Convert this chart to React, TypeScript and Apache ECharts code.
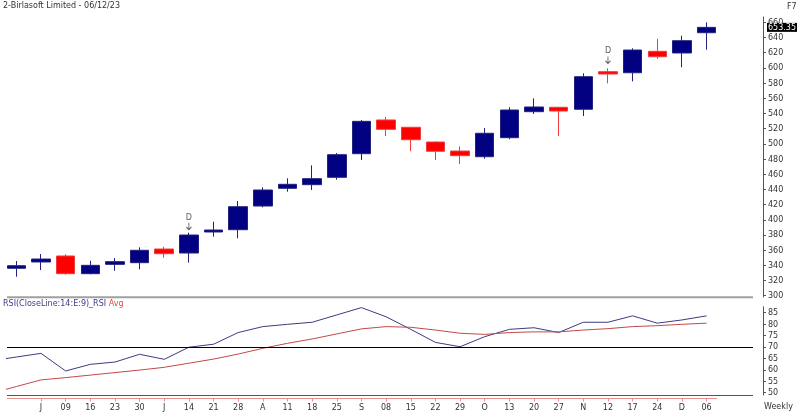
import React, { useEffect, useRef } from 'react';
import * as echarts from 'echarts';

const TITLE = '2-Birlasoft Limited - 06/12/23';
const weekLabels = ['', 'J', '09', '16', '23', '30', 'J', '14', '21', '28', 'A', '11', '18', '25', 'S', '08', '15', '22', '29', 'O', '13', '20', '27', 'N', '12', '17', '24', 'D', '06'];

const opens = [336.1, 344.4, 352.3, 329.0, 341.3, 343.5, 361.5, 356.2, 383.9, 386.9, 418.1, 441.4, 446.2, 455.9, 487.0, 531.4, 521.8, 502.4, 490.5, 483.0, 508.1, 542.3, 548.1, 545.5, 595.0, 593.6, 621.8, 619.6, 646.3];
const closes = [339.5, 348.3, 329.0, 340.0, 344.8, 359.8, 355.3, 379.9, 386.5, 417.2, 439.2, 446.7, 454.1, 485.7, 529.6, 519.1, 505.4, 490.2, 484.4, 513.9, 544.5, 548.5, 543.2, 588.4, 591.9, 623.5, 614.7, 635.8, 653.35];
const lows = [325.0, 333.8, 327.7, 328.2, 332.9, 334.8, 350.0, 343.5, 377.7, 375.6, 416.4, 437.0, 439.2, 452.8, 478.7, 510.3, 490.2, 478.7, 473.4, 480.4, 506.0, 539.3, 510.3, 536.6, 579.7, 582.3, 612.1, 600.8, 623.9];
const highs = [345.7, 354.9, 354.5, 346.0, 349.6, 363.7, 364.5, 383.0, 397.4, 424.7, 442.7, 454.6, 471.7, 487.9, 531.4, 535.3, 522.2, 503.0, 496.7, 520.8, 548.1, 559.9, 548.5, 592.9, 599.4, 625.8, 638.4, 642.4, 660.0];

// RSI values; the first entry is the week before the visible window (clipped at the left edge)
const rsiValues = [64.0, 65.6, 67.2, 59.5, 62.4, 63.4, 66.8, 64.6, 69.9, 71.2, 76.3, 78.9, 79.9, 80.8, 84.0, 87.2, 83.2, 77.7, 72.0, 70.1, 74.5, 77.7, 78.4, 76.3, 80.8, 80.8, 83.6, 80.4, 81.8, 83.6];
const rsiAvgValues = [49.8, 52.7, 55.6, 56.6, 57.7, 58.8, 59.9, 61.1, 62.9, 64.7, 66.9, 69.4, 71.6, 73.5, 75.7, 77.9, 78.9, 78.6, 77.4, 76.0, 75.5, 76.3, 76.6, 76.6, 77.4, 78.0, 78.9, 79.3, 79.9, 80.4];

const dividendWeeks = [7, 24];
const dividendMarkLevels = [391.4, 610.4];
const lastClose = 653.35;
const rsiLevel = 70;

const priceTicks = [300, 320, 340, 360, 380, 400, 420, 440, 460, 480, 500, 520, 540, 560, 580, 600, 620, 640, 660];
const rsiTicks = [50, 55, 60, 65, 70, 75, 80, 85];
const labelWeeks = weekLabels.map((_, i) => i).filter((i) => weekLabels[i] !== '');

const FONT = 'DejaVu Sans';
const X_MIN = -0.379;
const X_MAX = 29.884;

export default function App() {
  const ref = useRef<HTMLDivElement>(null);

  useEffect(() => {
    if (!ref.current) return;
    const chart = echarts.init(ref.current, undefined, { renderer: 'svg' });

    const candleData = opens.map((o, i) => [i, o, closes[i], lows[i], highs[i]]);
    const rsiData = rsiValues.map((v, i) => [i - 1, v]);
    const avgData = rsiAvgValues.map((v, i) => [i - 1, v]);
    const divData = dividendWeeks.map((w, i) => [w, dividendMarkLevels[i]]);

    const option: any = {
      animation: false,
      textStyle: { fontFamily: FONT },
      grid: [
        { left: 7, right: 47, top: 17, height: 280 },
        { left: 7, right: 47, top: 306.7, height: 88.3 },
      ],
      xAxis: [
        { type: 'value', gridIndex: 0, min: X_MIN, max: X_MAX, show: false, axisLine: { onZero: false }, splitLine: { show: false } },
        {
          type: 'value', gridIndex: 1, min: X_MIN, max: X_MAX, position: 'bottom', offset: 3.5,
          axisLine: { show: false, onZero: false },
          axisTick: { show: true, customValues: labelWeeks, length: 3, lineStyle: { color: '#e89090' } },
          axisLabel: {
            customValues: labelWeeks, margin: 5, fontSize: 8, color: '#333', fontFamily: FONT,
            formatter: (v: number) => weekLabels[Math.round(v)] ?? '',
          },
          splitLine: { show: false },
        },
      ],
      yAxis: [
        {
          type: 'value', gridIndex: 0, position: 'right', offset: 10, min: 298.3, max: 667,
          axisLine: { show: true, onZero: false, lineStyle: { color: '#555' } },
          axisTick: { show: true, customValues: priceTicks, length: 3, lineStyle: { color: '#555' } },
          axisLabel: { customValues: priceTicks, margin: 5, fontSize: 8, color: '#333', fontFamily: FONT },
          splitLine: { show: false },
        },
        {
          type: 'value', gridIndex: 1, position: 'right', offset: 10, min: 49, max: 87.6,
          axisLine: { show: true, onZero: false, lineStyle: { color: '#555' } },
          axisTick: { show: true, customValues: rsiTicks, length: 3, lineStyle: { color: '#555' } },
          axisLabel: { customValues: rsiTicks, margin: 5, fontSize: 8, color: '#333', fontFamily: FONT },
          splitLine: { show: false },
        },
      ],
      series: [
        {
          type: 'candlestick',
          xAxisIndex: 0,
          yAxisIndex: 0,
          barWidth: 19,
          data: candleData,
          itemStyle: {
            color: '#000080',
            color0: '#ff0000',
            borderColor: '#23237f',
            borderColor0: '#f03c3c',
            borderWidth: 1,
          },
          markLine: {
            silent: true,
            symbol: 'none',
            lineStyle: { color: 'rgba(0,0,0,0)', width: 0 },
            label: {
              show: true,
              position: 'end',
              distance: 14,
              formatter: () => lastClose.toFixed(2),
              backgroundColor: '#000',
              color: '#fff',
              padding: [1, 1, 0, 1],
              fontSize: 8,
              fontFamily: FONT,
            },
            data: [{ yAxis: lastClose }],
          },
        },
        {
          type: 'scatter',
          xAxisIndex: 0,
          yAxisIndex: 0,
          data: divData,
          symbol: 'path://M5,0 L5,10 M1,6 L5,10 L9,6',
          symbolSize: [5, 7],
          itemStyle: { color: 'rgba(0,0,0,0)', borderColor: '#333', borderWidth: 1 },
          label: { show: true, position: 'top', distance: 1, formatter: 'D', fontSize: 8, color: '#333', fontFamily: FONT },
          silent: true,
          z: 5,
        },
        {
          type: 'line',
          xAxisIndex: 1,
          yAxisIndex: 1,
          data: rsiData,
          symbol: 'none',
          lineStyle: { color: '#3c3c80', width: 1 },
          clip: true,
          markLine: {
            silent: true,
            symbol: 'none',
            label: { show: false },
            lineStyle: { color: '#000', width: 1, type: 'solid' },
            data: [{ yAxis: rsiLevel }],
          },
        },
        {
          type: 'line',
          xAxisIndex: 1,
          yAxisIndex: 1,
          data: avgData,
          symbol: 'none',
          lineStyle: { color: '#c44848', width: 1 },
          clip: true,
        },
      ],
      graphic: [
        { type: 'text', left: 3, top: 1, style: { text: TITLE, fontSize: 8, fontFamily: FONT, fill: '#333' } },
        { type: 'text', left: 787, top: 2, style: { text: 'F7', fontSize: 8, fontFamily: FONT, fill: '#333' } },
        { type: 'line', shape: { x1: 7, y1: 297.3, x2: 753, y2: 297.3 }, style: { stroke: '#a0a0a0', lineWidth: 2 } },
        { type: 'line', shape: { x1: 7, y1: 395.5, x2: 753, y2: 395.5 }, style: { stroke: '#555', lineWidth: 1 } },
        { type: 'line', shape: { x1: 7, y1: 398.5, x2: 717, y2: 398.5 }, style: { stroke: '#e89090', lineWidth: 1 } },
        {
          type: 'text', left: 3, top: 299,
          style: {
            text: '{a|RSI(CloseLine:14:E:9)_RSI} {b|Avg}',
            fontSize: 8,
            fontFamily: FONT,
            rich: {
              a: { fill: '#3c3c88', fontSize: 8, fontFamily: FONT },
              b: { fill: '#e04848', fontSize: 8, fontFamily: FONT },
            },
          },
        },
        { type: 'text', left: 764, top: 402, style: { text: 'Weekly', fontSize: 8, fontFamily: FONT, fill: '#333' } },
      ],
    };

    chart.setOption(option);
    return () => chart.dispose();
  }, []);

  return <div ref={ref} style={{ position: 'fixed', left: 0, top: 0, width: 800, height: 413 }} />;
}
